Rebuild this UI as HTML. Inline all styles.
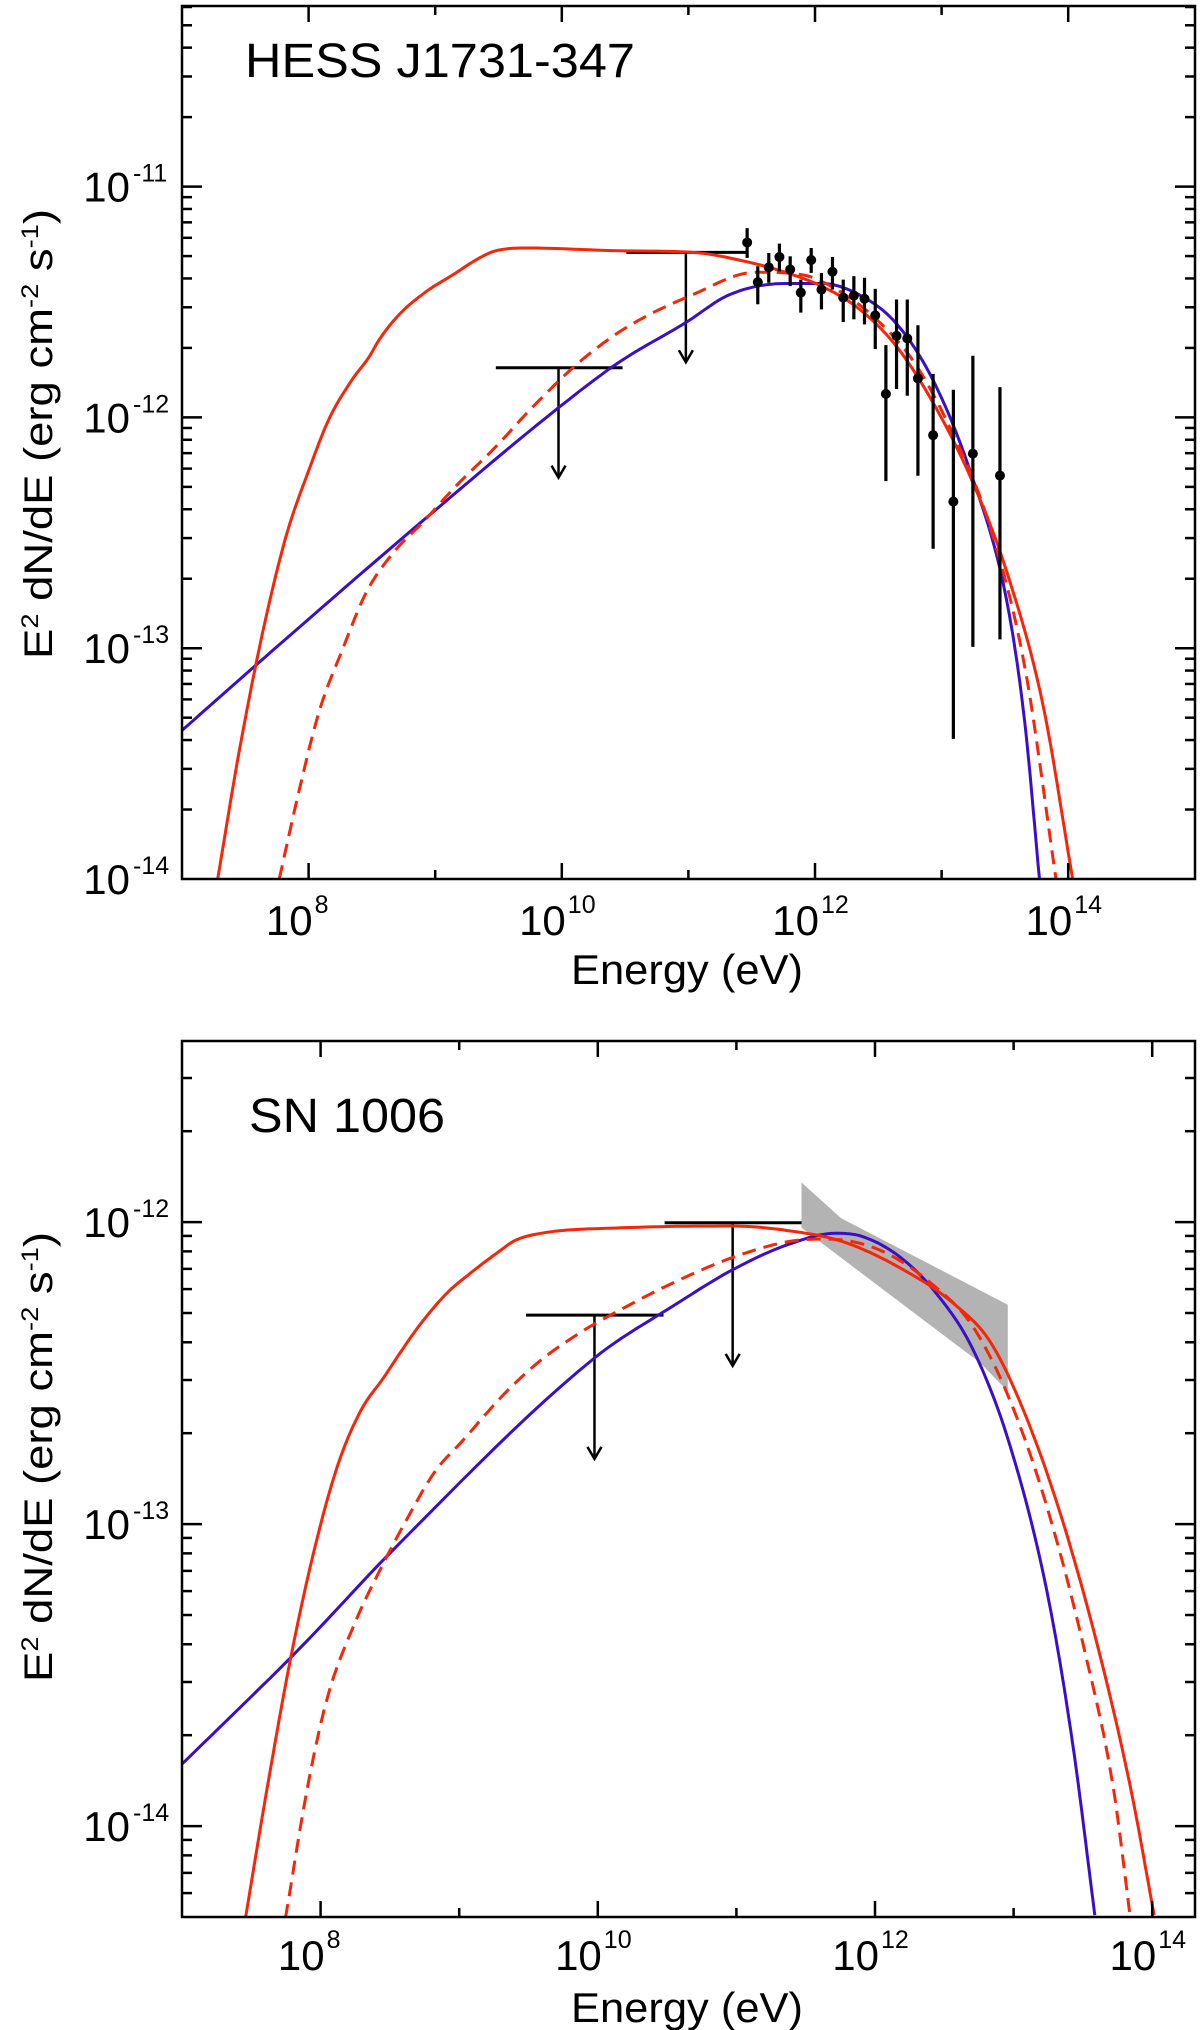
<!DOCTYPE html>
<html><head><meta charset="utf-8">
<style>
html,body{margin:0;padding:0;background:#fff;}
svg{display:block;}
text{font-family:"Liberation Sans",Arial,sans-serif;fill:#000;}
</style></head>
<body>
<svg id="fig" width="1200" height="2030" viewBox="0 0 1200 2030" xmlns="http://www.w3.org/2000/svg">
<defs>
<clipPath id="clipA"><rect x="182" y="6" width="1013" height="873"/></clipPath>
<clipPath id="clipB"><rect x="182" y="1041" width="1013" height="876"/></clipPath>
</defs>
<g id="panelA"></g>
<g id="panelB"></g>
</svg>
<script>
// ===== Panel A data (HESS J1731-347), log10 values =====
const aRedE=[7.282,7.453,7.637,7.821,8.005,8.163,8.347,8.479,8.558,8.716,8.926,9.137,9.347,9.479,9.742,10.453,11.035,11.472,11.763,12.054,12.346,12.637,12.928,13.22,13.511,13.802,14.035];
const aRedF=[-14.0,-13.444,-12.932,-12.517,-12.224,-12.005,-11.834,-11.737,-11.663,-11.554,-11.456,-11.383,-11.31,-11.278,-11.266,-11.278,-11.285,-11.327,-11.371,-11.432,-11.529,-11.688,-11.932,-12.249,-12.663,-13.249,-14.0];
const aDashE=[7.768,7.926,8.084,8.268,8.453,8.663,8.9,9.163,9.479,9.768,10.137,10.511,11.035,11.53,11.909,12.2,12.491,12.783,13.074,13.365,13.656,13.904];
const aDashF=[-14.0,-13.615,-13.273,-13.005,-12.761,-12.59,-12.456,-12.298,-12.127,-11.956,-11.761,-11.61,-11.468,-11.371,-11.383,-11.456,-11.578,-11.761,-12.054,-12.444,-13.078,-14.0];
const aBlueE=[6.979,7.624,8.953,9.979,10.452,10.977,11.326,11.763,12.054,12.346,12.637,12.928,13.22,13.511,13.657,13.773];
const aBlueF=[-13.366,-13.054,-12.424,-11.956,-11.761,-11.59,-11.468,-11.42,-11.42,-11.468,-11.59,-11.834,-12.224,-12.785,-13.322,-14.0];
const aPtE=[11.464,11.548,11.635,11.719,11.804,11.888,11.970,12.051,12.138,12.223,12.307,12.391,12.476,12.560,12.644,12.729,12.813,12.933,13.093,13.247,13.461];
const aPtF=[-11.242,-11.414,-11.350,-11.305,-11.359,-11.459,-11.318,-11.446,-11.369,-11.481,-11.472,-11.486,-11.558,-11.898,-11.647,-11.658,-11.831,-12.077,-12.365,-12.157,-12.252];
const aPtHi=[-11.180,-11.345,-11.288,-11.247,-11.302,-11.403,-11.266,-11.374,-11.305,-11.403,-11.388,-11.395,-11.443,-11.687,-11.489,-11.489,-11.601,-11.812,-11.880,-11.733,-11.869];
const aPtLo=[-11.309,-11.510,-11.417,-11.367,-11.431,-11.546,-11.374,-11.532,-11.446,-11.587,-11.575,-11.597,-11.704,-12.276,-11.877,-11.906,-12.253,-12.569,-13.393,-12.994,-12.962];
const aUlE0=[9.479,10.51];
const aUlE1=[10.48,11.452];
const aUlE=[9.974,10.98];
const aUlF=[-11.785,-11.285];
const aUlTip=[-12.261,-11.761];
const aYTicks=[-14,-13,-12,-11];
const aXTicks=[8,10,12,14];

// ===== Panel B data (SN 1006) =====
const bRedE=[7.458,7.614,7.783,7.952,8.12,8.289,8.458,8.566,8.723,8.916,9.084,9.30,9.398,9.59,10.168,10.968,11.369,11.769,12.17,12.571,12.838,13.105,13.372,13.64,13.853,14.014];
const bRedF=[-14.304,-13.875,-13.446,-13.09,-12.81,-12.625,-12.513,-12.438,-12.336,-12.233,-12.168,-12.093,-12.062,-12.037,-12.019,-12.013,-12.028,-12.065,-12.149,-12.271,-12.401,-12.662,-13.017,-13.465,-13.894,-14.295];
const bDashE=[7.747,7.904,8.048,8.241,8.434,8.627,8.819,9.036,9.325,9.59,9.88,10.168,10.567,10.968,11.369,11.636,12.037,12.437,12.705,12.972,13.24,13.507,13.72,13.84];
const bDashF=[-14.304,-13.875,-13.576,-13.334,-13.147,-12.98,-12.83,-12.718,-12.569,-12.457,-12.364,-12.289,-12.196,-12.118,-12.065,-12.056,-12.093,-12.215,-12.345,-12.588,-12.942,-13.409,-13.875,-14.295];
const bBlueE=[6.988,7.855,8.53,9.976,10.567,10.968,11.369,11.716,11.903,12.17,12.437,12.705,12.972,13.24,13.426,13.586];
const bBlueF=[-13.80,-13.409,-13.082,-12.450,-12.271,-12.159,-12.075,-12.037,-12.047,-12.112,-12.233,-12.42,-12.737,-13.222,-13.726,-14.295];
const bBandE=[11.47,11.756,12.958,12.958,12.758,11.47];
const bBandF=[-11.869,-11.987,-12.274,-12.56,-12.466,-12.019];
const bUlE0=[9.482,10.482];
const bUlE1=[10.474,11.47];
const bUlE=[9.976,10.973];
const bUlF=[-12.308,-12.002];
const bUlTip=[-12.784,-12.476];
const bYTicks=[-14,-13,-12];
const bXTicks=[8,10,12,14];

const NS='http://www.w3.org/2000/svg';
function mk(tag,attrs,parent){const e=document.createElementNS(NS,tag);for(const k in attrs)e.setAttribute(k,attrs[k]);parent.appendChild(e);return e;}

// monotone cubic (Fritsch-Carlson) interpolation in data space, sampled densely
function monoSample(xs,ys,n){
  const N=xs.length,d=[],m=new Array(N);
  for(let i=0;i<N-1;i++)d.push((ys[i+1]-ys[i])/(xs[i+1]-xs[i]));
  m[0]=d[0];m[N-1]=d[N-2];
  for(let i=1;i<N-1;i++){m[i]=(d[i-1]*d[i]<=0)?0:(d[i-1]+d[i])/2;}
  for(let i=0;i<N-1;i++){
    if(d[i]===0){m[i]=0;m[i+1]=0;continue;}
    const a=m[i]/d[i],b=m[i+1]/d[i],s=a*a+b*b;
    if(s>9){const t=3/Math.sqrt(s);m[i]=t*a*d[i];m[i+1]=t*b*d[i];}
  }
  const out=[];
  for(let i=0;i<N-1;i++){
    const h=xs[i+1]-xs[i];
    for(let k=0;k<n;k++){
      const t=k/n,t2=t*t,t3=t2*t;
      const y=(2*t3-3*t2+1)*ys[i]+(t3-2*t2+t)*h*m[i]+(-2*t3+3*t2)*ys[i+1]+(t3-t2)*h*m[i+1];
      out.push([xs[i]+t*h,y]);
    }
  }
  out.push([xs[N-1],ys[N-1]]);
  return out;
}

function drawPanel(g,cfg){
  const X=v=>cfg.x0+(v-cfg.emin)*cfg.dx;
  const Y=v=>cfg.ybot-(v-cfg.fmin)*cfg.dy;
  const L=cfg.x0,R=cfg.x1,T=cfg.ytop,B=cfg.ybot;
  const plot=mk('g',{'clip-path':'url(#'+cfg.clip+')'},g);
  
  
  if(cfg.bandE){
    const band=mk('polygon',{points:cfg.bandE.map((e,i)=>X(e).toFixed(1)+','+Y(cfg.bandF[i]).toFixed(1)).join(' '),fill:'#b3b3b3'},plot);
    
    
  }
  cfg.ulE.forEach((e,i)=>{
    const ul=mk('g',{stroke:'#000','stroke-width':3,fill:'none'},plot);
    
    
    mk('line',{x1:X(cfg.ulE0[i]),x2:X(cfg.ulE1[i]),y1:Y(cfg.ulF[i]),y2:Y(cfg.ulF[i])},ul);
    const xc=X(e),yt=Y(cfg.ulTip[i]);
    mk('line',{x1:xc,x2:xc,y1:Y(cfg.ulF[i]),y2:yt,'stroke-width':2.5},ul);
    mk('polyline',{points:(xc-7)+','+(yt-12)+' '+xc+','+yt+' '+(xc+7)+','+(yt-12),'stroke-width':2.5},ul);
  });
  const curves=[[cfg.blueE,cfg.blueF,'#3a0fc8','','blue-model-curve'],[cfg.dashE,cfg.dashF,'#f5260a','14 8','red-dashed-model-curve'],[cfg.redE,cfg.redF,'#f5260a','','red-model-curve']];
  curves.forEach(c=>{
    const pts=monoSample(c[0],c[1],12).map(p=>X(p[0]).toFixed(1)+','+Y(p[1]).toFixed(1));
    const p=mk('polyline',{points:pts.join(' '),fill:'none',stroke:c[2],'stroke-width':3,'stroke-dasharray':c[3],'stroke-linejoin':'round'},plot);
    
    
  });
  if(cfg.ptE){
    cfg.ptE.forEach((e,i)=>{
      const pg=mk('g',{},plot);
      
      
      mk('line',{x1:X(e),x2:X(e),y1:Y(cfg.ptHi[i]),y2:Y(cfg.ptLo[i]),stroke:'#000','stroke-width':3.2},pg);
      mk('circle',{cx:X(e),cy:Y(cfg.ptF[i]),r:5,fill:'#000'},pg);
    });
  }
  const fr=mk('rect',{x:L,y:T,width:R-L,height:B-T,fill:'none',stroke:'#000','stroke-width':2.5},g);
  
  
  const ax=mk('g',{stroke:'#000','stroke-width':2.5},g);
  
  
  for(let d=Math.ceil(cfg.emin);d<=cfg.emax;d++){
    const x=X(d);if(x<L+1||x>R-1)continue;
    const len=(d%2===0)?16:9;
    mk('line',{x1:x,x2:x,y1:B,y2:B-len},ax);
    mk('line',{x1:x,x2:x,y1:T,y2:T+len},ax);
  }
  for(let d=Math.floor(cfg.fmin);d<=Math.ceil(cfg.fmax);d++){
    for(let m=1;m<=9;m++){
      const v=d+Math.log10(m);const y=Y(v);
      if(y<T+1||y>B-1)continue;
      const len=m===1?20:10;
      mk('line',{x1:L,x2:L+len,y1:y,y2:y},ax);
      mk('line',{x1:R,x2:R-len,y1:y,y2:y},ax);
    }
  }
  cfg.yTicks.forEach(v=>{
    const y=Y(v);
    const t=mk('text',{x:130,y:y+15,'text-anchor':'end','font-size':42},g);
    t.textContent='10';
    
    
    const s=mk('text',{x:133,y:y-5,'font-size':25},g);
    s.textContent=String(v);
    
    
  });
  cfg.xTicks.forEach(v=>{
    const x=X(v);
    const t=mk('text',{x:x+4,y:cfg.xlabY,'text-anchor':'end','font-size':42},g);
    t.textContent='10';
    
    
    const s=mk('text',{x:x+6,y:cfg.xlabY-22,'font-size':25},g);
    s.textContent=String(v);
    
    
  });
  const xt=mk('text',{x:571,y:cfg.xtitleY,'font-size':42,textLength:232,lengthAdjust:'spacingAndGlyphs'},g);
  xt.textContent='Energy (eV)';
  
  
  const yt=mk('text',{transform:'translate(52,'+cfg.ytitleC+') rotate(-90)','text-anchor':'middle','font-size':40,textLength:450,lengthAdjust:'spacingAndGlyphs'},g);
  yt.innerHTML='E<tspan dy="-14" font-size="24">2</tspan><tspan dy="14"> dN/dE (erg cm</tspan><tspan dy="-14" font-size="24">-2</tspan><tspan dy="14"> s</tspan><tspan dy="-14" font-size="24">-1</tspan><tspan dy="14">)</tspan>';
  
  
  const ti=mk('text',{x:cfg.titleX,y:cfg.titleY,'font-size':48,textLength:cfg.titleW,lengthAdjust:'spacingAndGlyphs'},g);
  ti.textContent=cfg.title;
  
  
}

drawPanel(document.getElementById('panelA'),{
  x0:182,x1:1195,emin:7,emax:15,dx:126.6,ytop:6,ybot:879,fmin:-14,fmax:-10.22,dy:230.8,clip:'clipA',
  redE:aRedE,redF:aRedF,dashE:aDashE,dashF:aDashF,blueE:aBlueE,blueF:aBlueF,
  ptE:aPtE,ptF:aPtF,ptHi:aPtHi,ptLo:aPtLo,
  ulE0:aUlE0,ulE1:aUlE1,ulE:aUlE,ulF:aUlF,ulTip:aUlTip,
  yTicks:aYTicks,xTicks:aXTicks,xlabY:935,xtitleY:984,ytitleC:434,
  title:'HESS J1731-347',titleX:245,titleY:77,titleW:390
});
drawPanel(document.getElementById('panelB'),{
  x0:182,x1:1195,emin:7,emax:14.31,dx:138.6,ytop:1041,ybot:1917,fmin:-14.301,fmax:-11.398,dy:302,clip:'clipB',
  redE:bRedE,redF:bRedF,dashE:bDashE,dashF:bDashF,blueE:bBlueE,blueF:bBlueF,
  bandE:bBandE,bandF:bBandF,
  ulE0:bUlE0,ulE1:bUlE1,ulE:bUlE,ulF:bUlF,ulTip:bUlTip,
  yTicks:bYTicks,xTicks:bXTicks,xlabY:1970,xtitleY:2022,ytitleC:1457,
  title:'SN 1006',titleX:249,titleY:1132,titleW:196
});
</script>
</body></html>
